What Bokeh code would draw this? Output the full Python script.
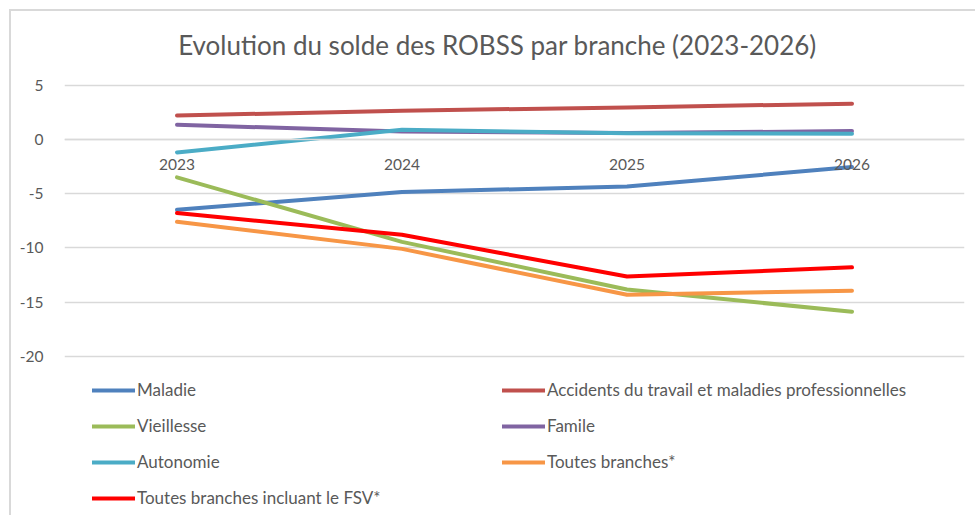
from bokeh.plotting import figure
from bokeh.models import Legend, LegendItem, Label, FactorRange, FixedTicker, Range1d
from bokeh.embed import file_html
from bokeh.resources import INLINE

# ---- data ----
years = ["2023", "2024", "2025", "2026"]
maladie = [-6.5, -4.85, -4.35, -2.55]
accidents = [2.2, 2.65, 2.95, 3.3]
vieillesse = [-3.5, -9.45, -13.85, -15.9]
famille = [1.35, 0.72, 0.58, 0.77]
autonomie = [-1.2, 0.89, 0.57, 0.53]
toutes = [-7.6, -10.1, -14.33, -13.96]
toutes_fsv = [-6.8, -8.8, -12.65, -11.8]
y_ticks = [-20, -15, -10, -5, 0, 5]
y_tick_labels = {t: str(t) for t in y_ticks}

series = [
    ("Maladie", maladie, "#4F81BD"),
    ("Accidents du travail et maladies professionnelles", accidents, "#C0504D"),
    ("Vieillesse", vieillesse, "#9BBB59"),
    ("Famile", famille, "#8064A2"),
    ("Autonomie", autonomie, "#4BACC6"),
    ("Toutes branches*", toutes, "#F79646"),
    ("Toutes branches incluant le FSV*", toutes_fsv, "#FF0000"),
]

FONT = "Lato"
TXT = "#595959"
GRID = "#d9d9d9"

W, H = 966, 506
PX_PER_UNIT = 271 / 25.0           # plot-area scale: 25 units over 271 px
TOP_PAD, BOTTOM_PAD = 73.7, 161.3  # room for the title above and legend below

p = figure(
    x_range=FactorRange(*years),
    y_range=Range1d(-20 - BOTTOM_PAD / PX_PER_UNIT, 5 + TOP_PAD / PX_PER_UNIT),
    width=W, height=H, output_backend="svg", toolbar_location=None,
    min_border_left=53, min_border_right=13, min_border_top=0, min_border_bottom=0,
)
p.styles = {"margin-left": "9px", "margin-top": "9px",
            "border-left": "2px solid #d9d9d9", "border-top": "2px solid #d9d9d9"}
p.outline_line_color = None
p.background_fill_color = "white"
p.border_fill_color = "white"

p.xgrid.grid_line_color = None
p.ygrid.ticker = FixedTicker(ticks=y_ticks)
p.ygrid.grid_line_color = GRID
p.ygrid.grid_line_width = 1.3
p.yaxis.ticker = FixedTicker(ticks=y_ticks)
p.yaxis.major_label_overrides = y_tick_labels
p.yaxis.axis_line_color = None
p.yaxis.major_tick_line_color = None
p.yaxis.minor_tick_line_color = None
p.yaxis.major_label_standoff = 15
p.yaxis.major_label_text_font = FONT
p.yaxis.major_label_text_font_size = "15.5px"
p.yaxis.major_label_text_color = TXT

p.xaxis.fixed_location = 0
p.xaxis.axis_line_color = GRID
p.xaxis.axis_line_width = 1.3
p.xaxis.major_tick_line_color = None
p.xaxis.minor_tick_line_color = None
p.xaxis.major_label_standoff = 14
p.xaxis.major_label_text_font = FONT
p.xaxis.major_label_text_font_size = "15.5px"
p.xaxis.major_label_text_color = TXT

items = []
for name, vals, col in series:
    r = p.line(years, vals, line_width=4, color=col, line_cap="round", line_join="round")
    items.append(LegendItem(label=name, renderers=[r]))

legend = Legend(
    items=items, orientation="horizontal", ncols=2,
    location=(28, 9), padding=0, margin=0, spacing=15,
    glyph_width=43, glyph_height=20, label_height=20, label_width=350,
    label_standoff=2, label_text_font=FONT, label_text_font_size="17px",
    label_text_color=TXT, background_fill_alpha=0, border_line_alpha=0,
)
p.add_layout(legend, "center")

title = Label(
    x=433, y=473, x_units="screen", y_units="screen",
    text="Evolution du solde des ROBSS par branche (2023-2026)",
    text_align="center", text_baseline="middle", text_font=FONT,
    text_font_size="26px", text_color=TXT,
)
p.add_layout(title)

open("out.html", "w").write(file_html(p, INLINE))
